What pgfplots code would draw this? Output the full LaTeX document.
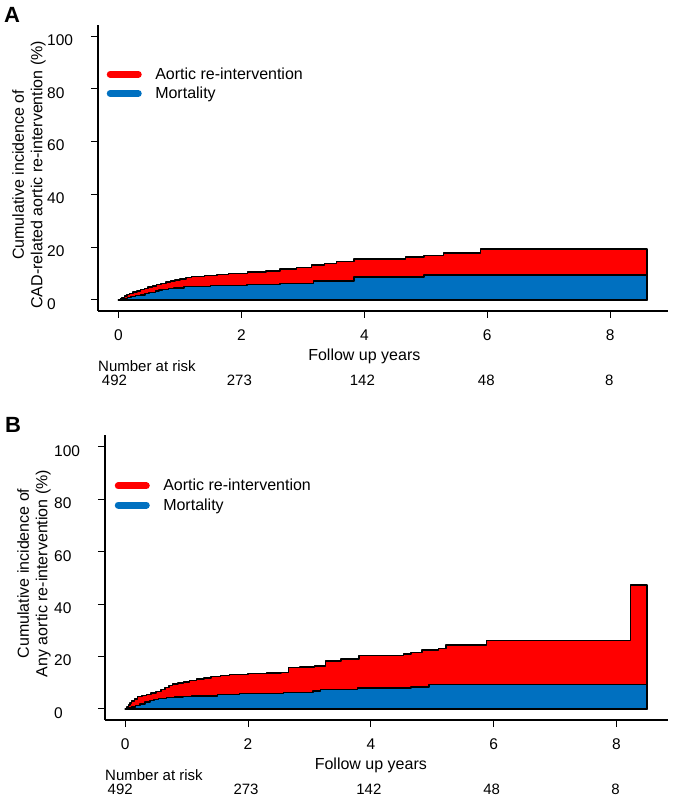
\documentclass[border=0pt]{standalone}
\usepackage{pgfplots}
\pgfplotsset{compat=1.18}
\usepackage{fontspec}
\setmainfont{Liberation Sans}
\definecolor{myred}{RGB}{255,0,0}
\definecolor{myblue}{RGB}{0,112,192}

\pgfplotsset{
  km/.style={
    scale only axis,
    anchor=south west,
    axis x line*=bottom, axis y line*=left,
    axis line style={-, line width=2pt},
    x axis line style={-}, y axis line style={-},
    tick align=outside,
    major tick length=7pt,
    tick style={line width=1pt, black},
    xtick={0,2,4,6,8}, ytick={0,20,40,60,80,100},
    /pgf/number format/assume math mode=true,
    ticklabel style={font=\fontsize{15.5}{15.5}\selectfont},
    yticklabel style={anchor=west, inner sep=0pt, xshift=-44pt, yshift=-4pt},
    xticklabel style={yshift=-8pt},
    clip=false,
    legend cell align=left,
    legend image code/.code={\draw[#1, line cap=round] (3.5pt,0pt) -- (31.5pt,0pt); \path (43pt,0pt);},
    legend style={draw=none, fill=none, font=\fontsize{16}{16}\selectfont, anchor=north west, inner sep=0pt, row sep=2pt, nodes={inner sep=2pt}},
    ylabel style={align=center, font=\fontsize{16}{18.5}\selectfont, anchor=center},
  },
  area/.style={const plot, draw=black, line width=1.5pt, line join=round, forget plot},
}
\tikzset{nar/.style={font=\fontsize{15}{15}\selectfont, inner sep=0pt}}

\begin{document}
\begin{tikzpicture}
\useasboundingbox (0pt,0pt) rectangle (680pt,799pt);

% ---------------- Panel A ----------------
\node[font=\bfseries\fontsize{22}{22}\selectfont] at (12pt,784pt) {A};
\begin{axis}[km, at={(98pt,488pt)}, width=570pt, height=286pt,
  xmin=-0.333, xmax=8.94, ymin=-4.2, ymax=104.2,
  ylabel={Cumulative incidence of\\CAD-related aortic re-intervention (\%)},
  ylabel style={at={(axis description cs:-0.121,0.476)}},
  legend style={at={(axis description cs:0.015,0.858)}}]
\addplot[area, fill=myred] coordinates {
 (0,0) (0.03,0.5) (0.06,1.0) (0.1,1.5) (0.14,2.0) (0.18,2.5) (0.24,3.0) (0.3,3.4)
 (0.36,3.9) (0.42,4.4) (0.48,4.9) (0.55,5.3) (0.62,5.8) (0.69,6.3) (0.77,6.8) (0.85,7.2)
 (0.92,7.6) (1.0,8.0) (1.1,8.4) (1.19,8.8) (1.4,9.3) (1.6,9.7) (1.79,10.1) (2.1,10.5) (2.4,11.0)
 (2.63,11.7) (2.9,12.3) (3.14,13.2) (3.35,13.8) (3.55,14.6) (3.83,15.5) (4.67,16.2)
 (4.97,16.9) (5.29,17.7) (5.89,19.3) (8.6,19.3)} \closedcycle;
\addplot[area, fill=myblue] coordinates {
 (0,0) (0.05,0.3) (0.1,0.6) (0.15,0.9) (0.2,1.2) (0.28,1.6) (0.36,1.9) (0.43,2.4)
 (0.5,2.8) (0.6,3.4) (0.66,3.7) (0.72,4.0) (0.81,4.3) (0.9,4.6)
 (1.07,5.1) (1.5,5.5) (2.09,5.9) (2.63,6.3) (3.17,7.2) (3.83,8.6) (4.97,9.5) (8.6,9.5)} \closedcycle;
\addlegendimage{line width=7pt, myred}
\addlegendentry{Aortic re-intervention}
\addlegendimage{line width=7pt, myblue}
\addlegendentry{Mortality}
\node[font=\fontsize{16}{16}\selectfont] at (axis cs:4,-4.2) [yshift=-45.7pt] {Follow up years};
\node[nar, anchor=west] at (rel axis cs:0,0) [yshift=-55.5pt] {Number at risk};
\node[nar] at (axis cs:0,-4.2) [yshift=-69.5pt, xshift=-4pt] {492};
\node[nar] at (axis cs:2,-4.2) [yshift=-69.5pt, xshift=-2pt] {273};
\node[nar] at (axis cs:4,-4.2) [yshift=-69.5pt, xshift=-2pt] {142};
\node[nar] at (axis cs:6,-4.2) [yshift=-69.5pt, xshift=-1pt] {48};
\node[nar] at (axis cs:8,-4.2) [yshift=-69.5pt, xshift=-1pt] {8};
\end{axis}

% ---------------- Panel B ----------------
\node[font=\bfseries\fontsize{22}{22}\selectfont] at (13pt,374pt) {B};
\begin{axis}[km, at={(105pt,79pt)}, width=563pt, height=285pt,
  xmin=-0.33, xmax=8.84, ymin=-4.2, ymax=104.5,
  ylabel={Cumulative incidence of\\Any aortic re-intervention (\%)},
  ylabel style={at={(axis description cs:-0.126,0.514)}},
  legend style={at={(axis description cs:0.017,0.852)}}]
\addplot[area, fill=myred] coordinates {
 (0,0) (0.03,0.8) (0.05,1.5) (0.08,2.3) (0.1,3.0) (0.15,3.9) (0.197,4.7) (0.27,5.2)
 (0.35,5.6) (0.42,6.1) (0.5,6.6) (0.58,7.4) (0.65,8.2) (0.71,8.9) (0.77,9.5) (0.86,9.9)
 (0.95,10.3) (1.05,10.9) (1.16,11.4) (1.28,11.9) (1.4,12.3) (1.55,12.8) (1.7,13.2)
 (2.0,13.5) (2.3,13.8) (2.54,14.0)
 (2.66,15.8) (2.85,16.1) (3.08,16.4) (3.26,18.3) (3.51,19.0) (3.81,20.4) (4.53,21.0)
 (4.65,21.6) (4.83,22.5) (5.1,23.0) (5.22,24.4) (5.88,26.1) (8.23,47.2) (8.5,47.2)} \closedcycle;
\addplot[area, fill=myblue] coordinates {
 (0,0) (0.05,0.4) (0.1,0.8) (0.17,1.4) (0.24,1.9) (0.32,2.6) (0.4,3.2) (0.47,3.6)
 (0.54,4.0) (0.67,4.3) (0.8,4.6) (0.94,4.8) (1.08,5.0) (1.5,5.5)
 (1.86,5.9) (2.58,6.2) (3.06,6.9) (3.18,7.5) (3.78,8.0) (4.65,8.4) (4.95,9.3) (8.5,9.3)} \closedcycle;
\addlegendimage{line width=7pt, myred}
\addlegendentry{Aortic re-intervention}
\addlegendimage{line width=7pt, myblue}
\addlegendentry{Mortality}
\node[font=\fontsize{16}{16}\selectfont] at (axis cs:4,-4.2) [yshift=-45pt] {Follow up years};
\node[nar, anchor=west] at (rel axis cs:0,0) [yshift=-55pt] {Number at risk};
\node[nar] at (axis cs:0,-4.2) [yshift=-69pt, xshift=-5pt] {492};
\node[nar] at (axis cs:2,-4.2) [yshift=-69pt, xshift=-2pt] {273};
\node[nar] at (axis cs:4,-4.2) [yshift=-69pt, xshift=-2pt] {142};
\node[nar] at (axis cs:6,-4.2) [yshift=-69pt, xshift=-2pt] {48};
\node[nar] at (axis cs:8,-4.2) [yshift=-69pt, xshift=-1pt] {8};
\end{axis}
\end{tikzpicture}
\end{document}
